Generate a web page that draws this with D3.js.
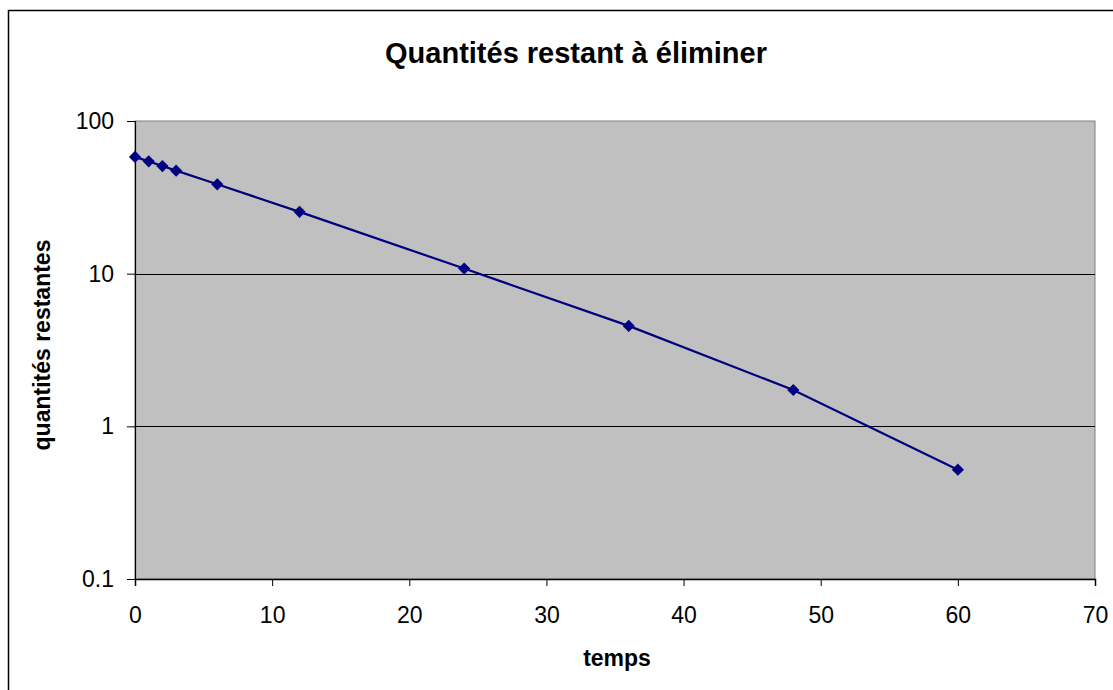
<!DOCTYPE html>
<html><head><meta charset="utf-8">
<script src="https://cdn.jsdelivr.net/npm/d3@7"></script>
<style>body{margin:0;background:#fff}svg{display:block}text{font-family:"Liberation Sans",Arial,sans-serif}</style>
</head><body>
<svg id="c" width="1113" height="690"></svg>
<script>
const temps = [0, 1, 2, 3, 6, 12, 24, 36, 48, 60];
const quantites = [58.2, 54.4, 50.7, 47.3, 38.5, 25.4, 10.8, 4.55, 1.73, 0.52];
const xTicks = [0, 10, 20, 30, 40, 50, 60, 70];
const yTicks = [0.1, 1, 10, 100];
const yTickLabels = ["0.1", "1", "10", "100"];

const svg = d3.select("#c");
const L = 135, R = 1095, T = 121, B = 579;
const x = d3.scaleLinear().domain([0, 70]).range([L, R]);
const y = d3.scaleLog().domain([0.1, 100]).range([B, T]);
const FF = '"Liberation Sans",Arial,sans-serif';

// outer border
svg.append("rect").attr("x", 8.5).attr("y", 10.5).attr("width", 1120).attr("height", 700)
  .attr("fill", "none").attr("stroke", "#000").attr("stroke-width", 1.5);

// plot area
svg.append("rect").attr("x", L).attr("y", T).attr("width", R - L).attr("height", B - T)
  .attr("fill", "#c0c0c0").attr("stroke", "#808080").attr("stroke-width", 1);

// gridlines
svg.append("g").selectAll("line").data(yTicks.filter(d => d > 0.1 && d < 100)).join("line")
  .attr("x1", L).attr("x2", R).attr("y1", d => Math.round(y(d)) + 0.5).attr("y2", d => Math.round(y(d)) + 0.5)
  .attr("stroke", "#000").attr("stroke-width", 1);

// axes
const xAxis = d3.axisBottom(x).tickValues(xTicks).tickSize(7).tickPadding(21).tickFormat(d3.format("d"));
const gx = svg.append("g").attr("transform", `translate(0,${B})`).call(xAxis);
gx.attr("font-size", 23).attr("font-family", FF);
gx.select(".domain").attr("stroke", "#000").attr("stroke-width", 1.5);
gx.selectAll(".tick line").attr("stroke", "#000");
gx.selectAll("text").attr("fill", "#000");

const yAxis = d3.axisLeft(y).tickValues(yTicks).tickSize(8).tickPadding(13).tickFormat((d, i) => yTickLabels[i]);
const gy = svg.append("g").attr("transform", `translate(${L},0)`).call(yAxis);
gy.attr("font-size", 23).attr("font-family", FF);
gy.select(".domain").attr("stroke", "#000").attr("stroke-width", 1.2);
gy.selectAll(".tick line").attr("stroke", "#000");
gy.selectAll("text").attr("fill", "#000");

// line
const line = d3.line().x((d, i) => x(temps[i])).y(d => y(d));
svg.append("path").datum(quantites).attr("d", line)
  .attr("fill", "none").attr("stroke", "#000080").attr("stroke-width", 2.2);

// markers
svg.append("g").selectAll("path").data(quantites).join("path")
  .attr("transform", (d, i) => `translate(${x(temps[i])},${y(d)})`)
  .attr("d", d3.symbol().type(d3.symbolDiamond2).size(95))
  .attr("fill", "#000080");

// titles
svg.append("text").attr("x", 576).attr("y", 63).attr("text-anchor", "middle")
  .attr("font-size", 29).attr("font-weight", "bold").text("Quantités restant à éliminer");
svg.append("text").attr("x", 617).attr("y", 666).attr("text-anchor", "middle")
  .attr("font-size", 23).attr("font-weight", "bold").text("temps");
svg.append("text").attr("transform", "translate(50,345) rotate(-90)").attr("text-anchor", "middle")
  .attr("font-size", 23).attr("font-weight", "bold").text("quantités restantes");
</script>
</body></html>
